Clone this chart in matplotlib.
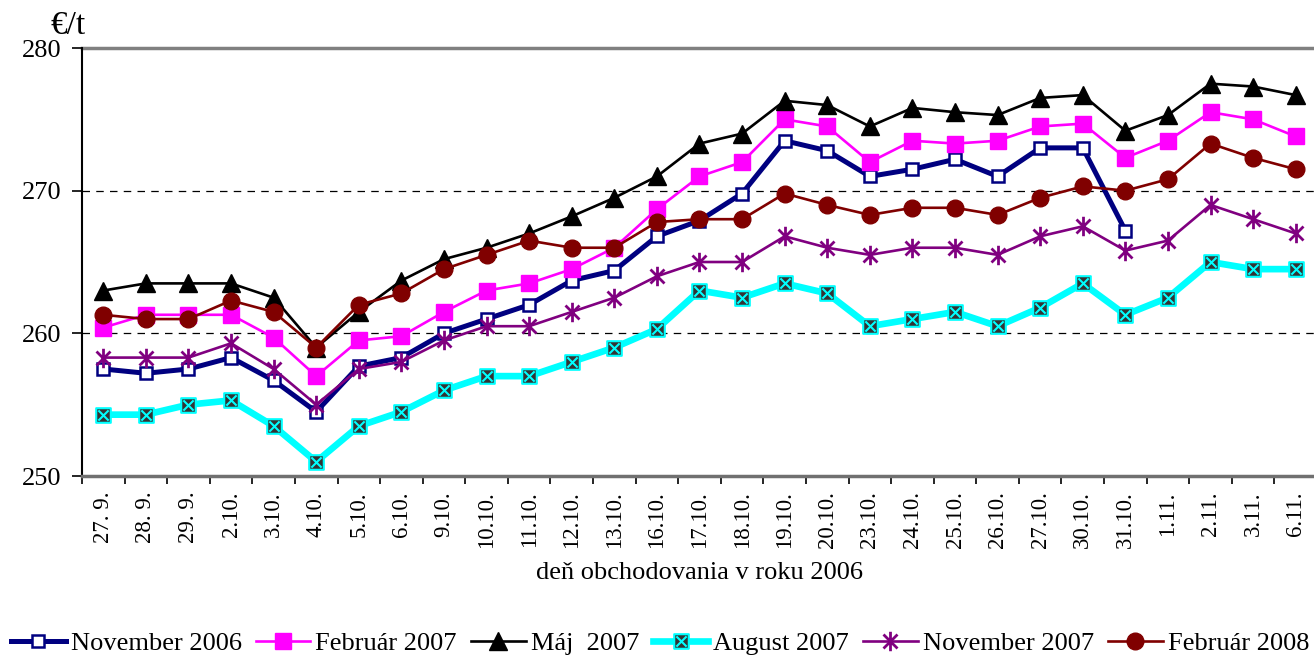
import matplotlib
matplotlib.use("Agg")
import matplotlib.pyplot as plt
from matplotlib.path import Path
import numpy as np

days = ["27. 9.", "28. 9.", "29. 9.", "2.10.", "3.10.", "4.10.", "5.10.", "6.10.",
        "9.10.", "10.10.", "11.10.", "12.10.", "13.10.", "16.10.", "17.10.", "18.10.",
        "19.10.", "20.10.", "23.10.", "24.10.", "25.10.", "26.10.", "27.10.", "30.10.",
        "31.10.", "1.11.", "2.11.", "3.11.", "6.11."]

nov2006 = [257.5, 257.2, 257.5, 258.3, 256.7, 254.5, 257.7, 258.3, 260.0, 261.0,
           262.0, 263.7, 264.4, 266.8, 267.9, 269.8, 273.5, 272.8, 271.0, 271.5,
           272.2, 271.0, 273.0, 273.0, 267.2]
feb2007 = [260.4, 261.3, 261.3, 261.3, 259.7, 257.0, 259.5, 259.8, 261.5, 263.0,
           263.5, 264.5, 266.0, 268.7, 271.0, 272.0, 275.0, 274.5, 272.0, 273.5,
           273.3, 273.5, 274.5, 274.7, 272.3, 273.5, 275.5, 275.0, 273.8]
maj2007 = [263.0, 263.5, 263.5, 263.5, 262.5, 259.0, 261.5, 263.7, 265.2, 266.0,
           267.0, 268.2, 269.5, 271.0, 273.3, 274.0, 276.3, 276.0, 274.5, 275.8,
           275.5, 275.3, 276.5, 276.7, 274.2, 275.3, 277.5, 277.3, 276.7]
aug2007 = [254.3, 254.3, 255.0, 255.3, 253.5, 251.0, 253.5, 254.5, 256.0, 257.0,
           257.0, 258.0, 259.0, 260.3, 263.0, 262.5, 263.5, 262.8, 260.5, 261.0,
           261.5, 260.5, 261.8, 263.5, 261.3, 262.5, 265.0, 264.5, 264.5]
nov2007 = [258.3, 258.3, 258.3, 259.3, 257.5, 255.0, 257.5, 258.0, 259.5, 260.5,
           260.5, 261.5, 262.5, 264.0, 265.0, 265.0, 266.8, 266.0, 265.5, 266.0,
           266.0, 265.5, 266.8, 267.5, 265.8, 266.5, 269.0, 268.0, 267.0]
feb2008 = [261.3, 261.0, 261.0, 262.3, 261.5, 259.0, 262.0, 262.8, 264.5, 265.5,
           266.5, 266.0, 266.0, 267.8, 268.0, 268.0, 269.8, 269.0, 268.3, 268.8,
           268.8, 268.3, 269.5, 270.3, 270.0, 270.8, 273.3, 272.3, 271.5]

labels = ["November 2006", "Február 2007", "Máj  2007", "August 2007",
          "November 2007", "Február 2008"]

plt.rcParams['font.family'] = ['Liberation Serif', 'DejaVu Serif']

# custom markers
ast = Path([(0, -1), (0, 1), (-0.72, -0.72), (0.72, 0.72), (-0.72, 0.72), (0.72, -0.72)],
           [Path.MOVETO, Path.LINETO, Path.MOVETO, Path.LINETO, Path.MOVETO, Path.LINETO])
sqx = Path([(-1, -1), (1, -1), (1, 1), (-1, 1), (-1, -1),
            (-0.7, -0.7), (0.7, 0.7), (-0.7, 0.7), (0.7, -0.7)],
           [Path.MOVETO, Path.LINETO, Path.LINETO, Path.LINETO, Path.CLOSEPOLY,
            Path.MOVETO, Path.LINETO, Path.MOVETO, Path.LINETO])

fig = plt.figure(figsize=(13.14, 6.58), dpi=100)
ax = fig.add_axes([82/1314, 1-476/658, 1235/1314, 428/658])

x = np.arange(len(days))
ax.plot(x[:len(nov2006)], nov2006, color='#000080', lw=3.6, marker='s', ms=8,
        mfc='white', mec='#000080', mew=1.8, label=labels[0])
ax.plot(x, feb2007, color='#FF00FF', lw=1.9, marker='s', ms=11,
        mfc='#FF00FF', mec='#FF00FF', label=labels[1])
ax.plot(x, maj2007, color='black', lw=1.9, marker='^', ms=13,
        mfc='black', mec='black', label=labels[2])
ax.plot(x, aug2007, color='#00FFFF', lw=4.8, marker=sqx, ms=10.5,
        mfc='#333333', mec='#00FFFF', mew=1.5, label=labels[3])
ax.plot(x, nov2007, color='#800080', lw=1.9, marker=ast, ms=14,
        mfc='none', mec='#800080', mew=2.0, label=labels[4])
ax.plot(x, feb2008, color='#800000', lw=1.9, marker='o', ms=12,
        mfc='#800000', mec='#800000', label=labels[5])

ax.set_xlim(-0.5, len(days) - 0.5)
ax.set_ylim(250, 280)
ax.set_yticks([250, 260, 270, 280])
ax.tick_params(axis='y', labelsize=19, length=7, width=1.2, direction='out', pad=8)
ax.set_xticks(np.arange(-0.5, len(days)), minor=False)
ax.set_xticklabels([])
ax.set_xticks(x, minor=True)
ax.set_xticklabels(days, minor=True, rotation=90, fontsize=16.5)
ax.tick_params(axis='x', which='major', length=6, width=1.2, direction='out')
ax.tick_params(axis='x', which='minor', length=0, pad=11)

for y in [260, 270]:
    ax.axhline(y, color='black', lw=0.9, ls=(0, (6, 5)), zorder=0)
ax.axhline(280, color='#808080', lw=2.5, zorder=0, clip_on=False)

ax.spines['right'].set_visible(False)
ax.spines['top'].set_visible(False)
ax.spines['left'].set_color('black')
ax.spines['left'].set_linewidth(1.5)
ax.spines['bottom'].set_color('#707070')
ax.spines['bottom'].set_linewidth(2.5)

ax.set_xlabel("deň obchodovania v roku 2006", fontsize=19, va='center')
ax.xaxis.set_label_coords(0.5, (476 - 573) / 428)
fig.text(68/1314, 1-26/658, "€/t", fontsize=24, ha='center', va='center')

fig.legend(loc='center', bbox_to_anchor=(660/1314, 1-643/658), ncol=6, frameon=False,
           fontsize=19, handlelength=2.08, columnspacing=0.53, handletextpad=0.19,
           borderaxespad=0, borderpad=0)

fig.savefig("out.png", dpi=100)
